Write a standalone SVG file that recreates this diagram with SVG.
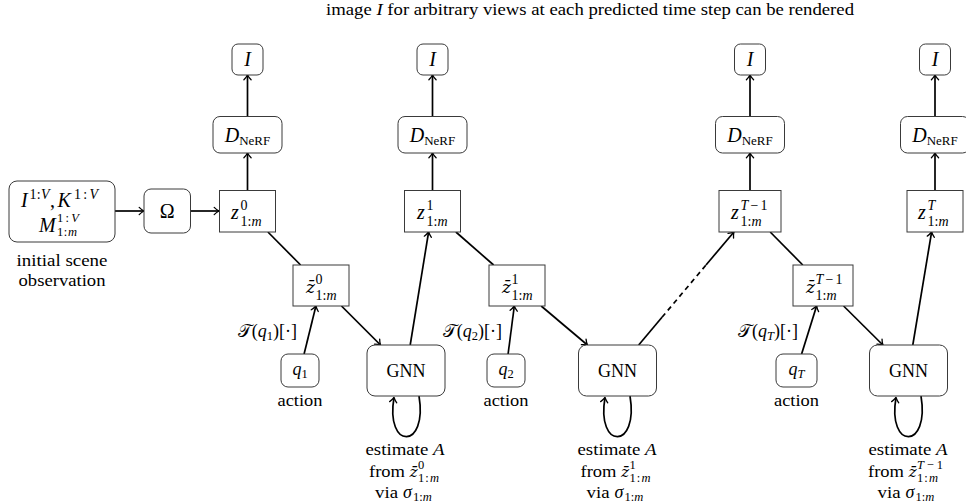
<svg xmlns="http://www.w3.org/2000/svg" width="966" height="503" viewBox="0 0 966 503">
<defs>
<style>
.box{fill:#fff;stroke:#3a3a3a;stroke-width:1}
.t{font-family:"Liberation Serif","Times New Roman",serif;font-size:17.5px;fill:#000}
.mt{font-family:"Liberation Serif","Times New Roman",serif;fill:#000}
.zb{font-family:"DejaVu Serif","Liberation Serif",serif;font-style:italic;fill:#000}
.L{font-size:20px}
.S{font-size:14px}
.Q{font-size:12.5px}
.i{font-style:italic}
.c{stroke:#000;stroke-width:1.7;fill:none}
.a{marker-end:url(#ah)}
.d{stroke-dasharray:5 4}
</style>
<marker id="ah" markerUnits="userSpaceOnUse" viewBox="-7 -5 9 10" markerWidth="9" markerHeight="10" refX="0" refY="0" orient="auto" overflow="visible">
<path d="M-4.8,-3.6 C-3.2,-2 -1.1,-0.6 0,0 C-1.1,0.6 -3.2,2 -4.8,3.6" fill="none" stroke="#000" stroke-width="1.3" stroke-linecap="round" stroke-linejoin="round"/>
</marker>
</defs>
<rect width="966" height="503" fill="#fff"/>

<text id="title" class="t" x="326" y="15" textLength="528" lengthAdjust="spacingAndGlyphs">image <tspan class="i">I</tspan> for arbitrary views at each predicted time step can be rendered</text>

<g id="connectors">
<path class="c a" d="M115,211 H144"/>
<path class="c a" d="M190.5,211 H219"/>
<path class="c a" d="M247.5,190.5 V153"/>
<path class="c a" d="M247.5,116.5 V75"/>
<path class="c a" d="M432.5,190.5 V153"/>
<path class="c a" d="M432.5,116.5 V75"/>
<path class="c a" d="M750,190.5 V153"/>
<path class="c a" d="M750,116.5 V75"/>
<path class="c a" d="M935,190.5 V153"/>
<path class="c a" d="M935,116.5 V75"/>
<path class="c" d="M267.9,232 L300.6,265"/>
<path class="c a" d="M304.1,354 L315.9,306"/>
<path class="c a" d="M341.5,306 L380.5,345"/>
<path class="c a" d="M410.2,345 L428.6,232"/>
<path class="c" d="M455.9,232 L493.6,265"/>
<path class="c a" d="M508.1,354 L514.3,306"/>
<path class="c a" d="M541.2,306 L587.4,345"/>
<path class="c" d="M638.7,345 L662,317.3"/>
<path class="c d" d="M662,317.3 L706,265"/>
<path class="c a" d="M706,265 L733.9,232"/>
<path class="c" d="M770.2,232 L802.8,265"/>
<path class="c a" d="M801.6,354 L816.6,306"/>
<path class="c a" d="M843.6,306 L882.9,345"/>
<path class="c a" d="M912.8,345 L931.6,232"/>
<path class="c a" d="M419,396 C428,450 385,450 394,397.5"/>
<path class="c a" d="M630,396 C639,450 596,450 605,397.5"/>
<path class="c a" d="M921,396 C930,450 887,450 896,397.5"/>
</g>

<g id="input">
<rect class="box" x="9" y="181" width="106" height="61" rx="8"/>
<text class="mt L i" x="21" y="206.5">I</text>
<text class="mt S" x="29.5" y="198.5" textLength="20" lengthAdjust="spacing">1:<tspan class="i">V</tspan></text>
<text class="mt L" x="50" y="206.5">,</text>
<text class="mt L i" x="57.5" y="206.5">K</text>
<text class="mt S" x="74" y="198.5" textLength="24" lengthAdjust="spacing">1:<tspan class="i">V</tspan></text>
<text class="mt L i" x="39" y="232">M</text>
<text class="mt Q" x="57" y="222" textLength="22" lengthAdjust="spacing">1:<tspan class="i">V</tspan></text>
<text class="mt Q" x="57" y="236" textLength="20" lengthAdjust="spacing">1:<tspan class="i">m</tspan></text>
<text class="t" x="62" y="266" text-anchor="middle" textLength="91" lengthAdjust="spacingAndGlyphs">initial scene</text>
<text class="t" x="62" y="286" text-anchor="middle" textLength="87" lengthAdjust="spacingAndGlyphs">observation</text>
</g>

<g id="omega">
<rect class="box" x="144" y="189" width="46.5" height="44" rx="7"/>
<text class="mt L" x="167.3" y="218" text-anchor="middle">Ω</text>
</g>

<g id="I0"><rect class="box" x="232" y="44" width="31" height="31" rx="6"/><text class="mt L i" x="247.5" y="66" text-anchor="middle">I</text></g>
<g id="I1"><rect class="box" x="417" y="44" width="31" height="31" rx="6"/><text class="mt L i" x="432.5" y="66" text-anchor="middle">I</text></g>
<g id="I2"><rect class="box" x="734.5" y="44" width="31" height="31" rx="6"/><text class="mt L i" x="750" y="66" text-anchor="middle">I</text></g>
<g id="I3"><rect class="box" x="919.5" y="44" width="31" height="31" rx="6"/><text class="mt L i" x="935" y="66" text-anchor="middle">I</text></g>

<g id="D0"><rect class="box" x="213" y="116.5" width="69" height="36.5" rx="7"/><text class="mt" x="247.5" y="142" text-anchor="middle"><tspan class="L i">D</tspan><tspan style="font-size:13px" dy="3">NeRF</tspan></text></g>
<g id="D1"><rect class="box" x="398" y="116.5" width="69" height="36.5" rx="7"/><text class="mt" x="432.5" y="142" text-anchor="middle"><tspan class="L i">D</tspan><tspan style="font-size:13px" dy="3">NeRF</tspan></text></g>
<g id="D2"><rect class="box" x="715.5" y="116.5" width="69" height="36.5" rx="7"/><text class="mt" x="750" y="142" text-anchor="middle"><tspan class="L i">D</tspan><tspan style="font-size:13px" dy="3">NeRF</tspan></text></g>
<g id="D3"><rect class="box" x="900.5" y="116.5" width="69" height="36.5" rx="7"/><text class="mt" x="935" y="142" text-anchor="middle"><tspan class="L i">D</tspan><tspan style="font-size:13px" dy="3">NeRF</tspan></text></g>

<g id="z0"><rect class="box" x="219.5" y="190.5" width="56" height="41.5"/>
<text class="mt L i" x="231" y="219">z</text><text class="mt S" x="240.5" y="210">0</text><text class="mt S" x="240.5" y="226">1:<tspan class="i">m</tspan></text></g>
<g id="z1"><rect class="box" x="404.5" y="190.5" width="56" height="41.5"/>
<text class="mt L i" x="417" y="219">z</text><text class="mt S" x="426.5" y="210">1</text><text class="mt S" x="426.5" y="226">1:<tspan class="i">m</tspan></text></g>
<g id="z2"><rect class="box" x="719" y="190.5" width="62" height="41.5"/>
<text class="mt L i" x="731" y="219">z</text><text class="mt S" x="740.5" y="210" textLength="27" lengthAdjust="spacing"><tspan class="i">T</tspan>−1</text><text class="mt S" x="740.5" y="226">1:<tspan class="i">m</tspan></text></g>
<g id="z3"><rect class="box" x="907" y="190.5" width="56" height="41.5"/>
<text class="mt L i" x="918" y="219">z</text><text class="mt S i" x="927.5" y="210">T</text><text class="mt S" x="927.5" y="226">1:<tspan class="i">m</tspan></text></g>

<g id="zb0"><rect class="box" x="293" y="265" width="56" height="41"/>
<text class="zb" x="306" y="293" style="font-size:17px">z̄</text><text class="mt S" x="315.5" y="284">0</text><text class="mt S" x="315.5" y="300">1:<tspan class="i">m</tspan></text></g>
<g id="zb1"><rect class="box" x="489" y="265" width="56" height="41"/>
<text class="zb" x="502" y="293" style="font-size:17px">z̄</text><text class="mt S" x="511.5" y="284">1</text><text class="mt S" x="511.5" y="300">1:<tspan class="i">m</tspan></text></g>
<g id="zb2"><rect class="box" x="793" y="265" width="60" height="41"/>
<text class="zb" x="806" y="293" style="font-size:17px">z̄</text><text class="mt S" x="815.5" y="284" textLength="27" lengthAdjust="spacing"><tspan class="i">T</tspan>−1</text><text class="mt S" x="815.5" y="300">1:<tspan class="i">m</tspan></text></g>

<g id="q1"><rect class="box" x="281" y="354" width="38" height="33" rx="7"/>
<text class="mt" x="292.4" y="374.5"><tspan class="i" style="font-size:18px">q</tspan><tspan class="Q" dy="3">1</tspan></text>
<text class="t" x="300" y="406" text-anchor="middle" textLength="45" lengthAdjust="spacingAndGlyphs">action</text>
<text class="mt" x="297" y="337" text-anchor="end" style="font-size:18px">𝒯(<tspan class="i">q</tspan><tspan class="Q" dy="3">1</tspan><tspan dy="-3">)[·]</tspan></text></g>
<g id="q2"><rect class="box" x="487" y="354" width="38" height="33" rx="7"/>
<text class="mt" x="498.4" y="374.5"><tspan class="i" style="font-size:18px">q</tspan><tspan class="Q" dy="3">2</tspan></text>
<text class="t" x="506" y="406" text-anchor="middle" textLength="45" lengthAdjust="spacingAndGlyphs">action</text>
<text class="mt" x="502" y="337" text-anchor="end" style="font-size:18px">𝒯(<tspan class="i">q</tspan><tspan class="Q" dy="3">2</tspan><tspan dy="-3">)[·]</tspan></text></g>
<g id="q3"><rect class="box" x="776" y="354" width="41" height="33" rx="7"/>
<text class="mt" x="788.5" y="374.5"><tspan class="i" style="font-size:18px">q</tspan><tspan class="Q i" dy="3">T</tspan></text>
<text class="t" x="796.5" y="406" text-anchor="middle" textLength="45" lengthAdjust="spacingAndGlyphs">action</text>
<text class="mt" x="798" y="337" text-anchor="end" style="font-size:18px">𝒯(<tspan class="i">q</tspan><tspan class="Q i" dy="3">T</tspan><tspan dy="-3">)[·]</tspan></text></g>

<g id="gnn1"><rect class="box" x="367" y="345" width="78" height="51" rx="8"/>
<text class="t" x="406" y="377" text-anchor="middle" style="font-size:18px">GNN</text>
<text class="t" x="405" y="455" text-anchor="middle" textLength="79" lengthAdjust="spacingAndGlyphs">estimate <tspan class="i">A</tspan></text>
<text class="t" x="369" y="477" textLength="36" lengthAdjust="spacingAndGlyphs">from</text>
<text class="zb" x="409.5" y="477" style="font-size:15.5px">z̄</text><text class="mt Q" x="418" y="469">0</text><text class="mt Q" x="418" y="482" textLength="21" lengthAdjust="spacing">1:<tspan class="i">m</tspan></text>
<text class="t" x="375" y="497.5" textLength="23" lengthAdjust="spacingAndGlyphs">via</text>
<text class="mt i" x="403" y="497.5" style="font-size:18px">σ</text><text class="mt Q" x="413" y="501">1:<tspan class="i">m</tspan></text></g>

<g id="gnn2"><rect class="box" x="578.5" y="345" width="78" height="51" rx="8"/>
<text class="t" x="617.5" y="377" text-anchor="middle" style="font-size:18px">GNN</text>
<text class="t" x="617" y="455" text-anchor="middle" textLength="79" lengthAdjust="spacingAndGlyphs">estimate <tspan class="i">A</tspan></text>
<text class="t" x="580.5" y="477" textLength="36" lengthAdjust="spacingAndGlyphs">from</text>
<text class="zb" x="621" y="477" style="font-size:15.5px">z̄</text><text class="mt Q" x="629.5" y="469">1</text><text class="mt Q" x="629.5" y="482" textLength="21" lengthAdjust="spacing">1:<tspan class="i">m</tspan></text>
<text class="t" x="586.5" y="497.5" textLength="23" lengthAdjust="spacingAndGlyphs">via</text>
<text class="mt i" x="614.5" y="497.5" style="font-size:18px">σ</text><text class="mt Q" x="624.5" y="501">1:<tspan class="i">m</tspan></text></g>

<g id="gnn3"><rect class="box" x="869.5" y="345" width="78" height="51" rx="8"/>
<text class="t" x="908.5" y="377" text-anchor="middle" style="font-size:18px">GNN</text>
<text class="t" x="908" y="455" text-anchor="middle" textLength="79" lengthAdjust="spacingAndGlyphs">estimate <tspan class="i">A</tspan></text>
<text class="t" x="868" y="477" textLength="36" lengthAdjust="spacingAndGlyphs">from</text>
<text class="zb" x="908.5" y="477" style="font-size:15.5px">z̄</text><text class="mt Q" x="917" y="469" textLength="26" lengthAdjust="spacing"><tspan class="i">T</tspan>−1</text><text class="mt Q" x="917" y="482" textLength="21" lengthAdjust="spacing">1:<tspan class="i">m</tspan></text>
<text class="t" x="877.5" y="497.5" textLength="23" lengthAdjust="spacingAndGlyphs">via</text>
<text class="mt i" x="905.5" y="497.5" style="font-size:18px">σ</text><text class="mt Q" x="915.5" y="501">1:<tspan class="i">m</tspan></text></g>
</svg>
